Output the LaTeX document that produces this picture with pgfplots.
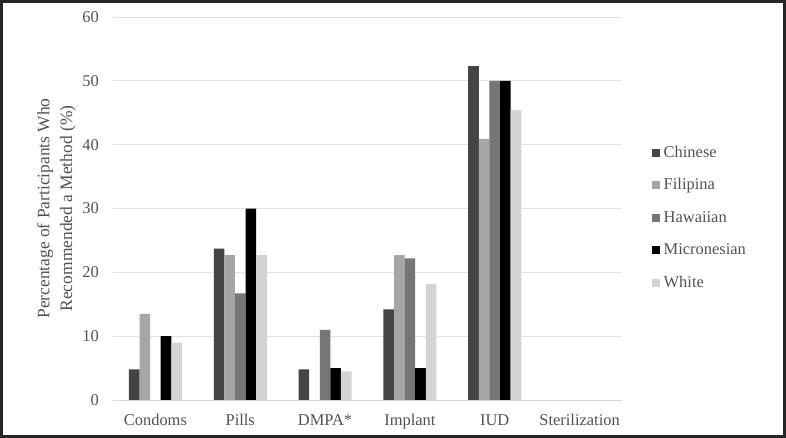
\documentclass[border=0pt]{standalone}
\usepackage{pgfplots}
\pgfplotsset{compat=1.18}
\usepackage{fontspec}
\setmainfont{Liberation Serif}

\definecolor{cChinese}{HTML}{444444}
\definecolor{cFilipina}{HTML}{A6A6A6}
\definecolor{cHawaiian}{HTML}{767676}
\definecolor{cMicro}{HTML}{000000}
\definecolor{cWhite}{HTML}{D4D4D4}
\definecolor{txt}{HTML}{525252}
\definecolor{gridc}{HTML}{E2E2E2}
\definecolor{framec}{HTML}{262626}

\begin{document}
\begin{tikzpicture}
\useasboundingbox (0,0) rectangle (786bp,438bp);
\fill[white] (0,0) rectangle (786bp,438bp);
\begin{axis}[
    at={(113bp,38bp)}, anchor=south west,
    scale only axis, width=509bp, height=383bp,
    ybar=0pt, bar width=10.6bp,
    xmin=-0.5, xmax=5.5, ymin=0, ymax=60,
    xtick={0,1,2,3,4,5},
    xticklabels={Condoms,Pills,DMPA*,Implant,IUD,Sterilization},
    ytick={0,10,...,60},
    ymajorgrids, grid style={gridc, line width=1bp},
    axis lines*=left,
    y axis line style={draw=none},
    x axis line style={draw=gridc!90!gray, line width=1bp},
    major tick length=0pt,
    /pgf/number format/assume math mode=true,
    ticklabel style={font=\fontsize{16.5}{19}\selectfont, text=txt},
    yticklabel style={inner sep=0pt, xshift=-14bp},
    xticklabel style={inner sep=0pt, text height=11bp, text depth=3bp, yshift=-14bp},
    ylabel={Percentage of Participants Who\\Recommended a Method (\%)},
    every axis y label/.style={at={(axis description cs:-0.111,0.5)}, rotate=90, anchor=center},
    ylabel style={align=center, font=\fontsize{17.5}{23}\selectfont, text=txt},
    legend style={at={(1.059,0.4726)}, anchor=west, draw=none, fill=none,
        font=\fontsize{16.5}{19}\selectfont, text=txt, row sep=17.5bp, inner sep=0pt,
        nodes={inner sep=0pt, text height=11bp, text depth=4bp},
        /tikz/every odd column/.append style={column sep=3.5bp}},
    legend cell align=left,
    legend image code/.code={\fill[#1,draw=none] (0bp,-3bp) rectangle (8bp,5bp);},
]
\addplot[fill=cChinese, draw=none] coordinates {(0,4.8) (1,23.7) (2,4.8) (3,14.2) (4,52.3) (5,0)};
\addplot[fill=cFilipina, draw=none] coordinates {(0,13.5) (1,22.7) (2,0) (3,22.7) (4,40.9) (5,0)};
\addplot[fill=cHawaiian, draw=none] coordinates {(0,0) (1,16.7) (2,11.0) (3,22.2) (4,50.0) (5,0)};
\addplot[fill=cMicro, draw=none] coordinates {(0,10.0) (1,30.0) (2,5.0) (3,5.0) (4,50.0) (5,0)};
\addplot[fill=cWhite, draw=none] coordinates {(0,9.0) (1,22.7) (2,4.5) (3,18.2) (4,45.4) (5,0)};
\legend{Chinese,Filipina,Hawaiian,Micronesian,White}
\end{axis}
\draw[framec, line width=3bp] (1.5bp,1.5bp) rectangle (784.5bp,436.5bp);
\end{tikzpicture}
\end{document}
